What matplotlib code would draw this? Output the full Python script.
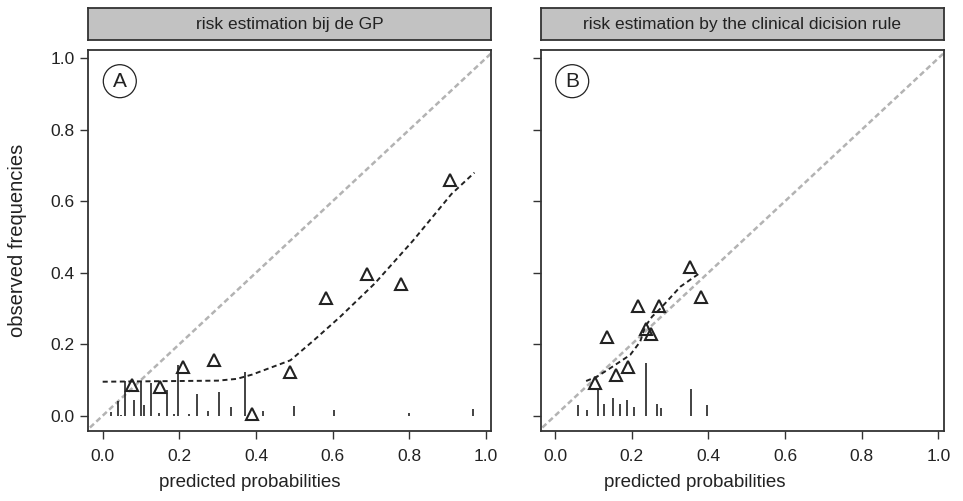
import matplotlib
matplotlib.use('Agg')
import matplotlib.pyplot as plt
from matplotlib.patches import Ellipse

plt.rcParams['font.family'] = ['Liberation Sans', 'DejaVu Sans']

# Panel A: risk estimation by the GP
a_pts_x = [0.076, 0.150, 0.209, 0.291, 0.389, 0.490, 0.584, 0.689, 0.778, 0.906]
a_pts_y = [0.086, 0.081, 0.137, 0.156, 0.005, 0.121, 0.330, 0.396, 0.368, 0.659]
a_curve_x = [0.0, 0.1, 0.2, 0.3, 0.35, 0.39, 0.44, 0.49, 0.55, 0.62, 0.71, 0.81, 0.91, 0.97]
a_curve_y = [0.095, 0.096, 0.097, 0.098, 0.103, 0.115, 0.135, 0.155, 0.21, 0.277, 0.37, 0.49, 0.62, 0.68]
a_spike_x = [0.022, 0.039, 0.048, 0.058, 0.082, 0.100, 0.109, 0.126, 0.148, 0.169, 0.187,
             0.196, 0.225, 0.245, 0.274, 0.303, 0.334, 0.371, 0.419, 0.499, 0.604, 0.800, 0.967]
a_spike_h = [0.011, 0.041, 0.002, 0.098, 0.044, 0.095, 0.030, 0.091, 0.007, 0.072, 0.004,
             0.142, 0.004, 0.061, 0.014, 0.067, 0.023, 0.121, 0.014, 0.027, 0.016, 0.008, 0.018]

# Panel B: risk estimation by the clinical decision rule
b_pts_x = [0.105, 0.135, 0.159, 0.190, 0.216, 0.238, 0.251, 0.270, 0.351, 0.382]
b_pts_y = [0.091, 0.221, 0.114, 0.137, 0.307, 0.243, 0.228, 0.307, 0.415, 0.331]
b_curve_x = [0.081, 0.109, 0.144, 0.196, 0.222, 0.235, 0.253, 0.275, 0.327, 0.379]
b_curve_y = [0.097, 0.109, 0.133, 0.170, 0.207, 0.249, 0.277, 0.300, 0.361, 0.400]
b_spike_x = [0.061, 0.083, 0.111, 0.128, 0.151, 0.170, 0.188, 0.207, 0.237, 0.266, 0.276, 0.355, 0.397]
b_spike_h = [0.030, 0.016, 0.072, 0.033, 0.050, 0.033, 0.044, 0.025, 0.147, 0.033, 0.021, 0.074, 0.030]

titles = ['risk estimation bij de GP', 'risk estimation by the clinical dicision rule']
letters = ['A', 'B']
ticks = [0.0, 0.2, 0.4, 0.6, 0.8, 1.0]

W, H = 963, 501
fig = plt.figure(figsize=(W / 100, H / 100), dpi=100)

panels = [
    (a_pts_x, a_pts_y, a_curve_x, a_curve_y, a_spike_x, a_spike_h),
    (b_pts_x, b_pts_y, b_curve_x, b_curve_y, b_spike_x, b_spike_h),
]
lefts = [88.3, 540.7]
xlab_centers = [250, 695]
box_w, box_top, box_bot = 403, 50, 430.7
box_h = box_bot - box_top

for i, (px, py, cx, cy, sx, sh) in enumerate(panels):
    l = lefts[i] / W
    ax = fig.add_axes([l, 1 - box_bot / H, box_w / W, box_h / H])
    ax.set_xlim(-0.0375, 1.014)
    ax.set_ylim(-0.042, 1.023)

    # reference diagonal
    ax.plot([-0.1, 1.1], [-0.1, 1.1], color='#b3b3b3', lw=1.8, dashes=(2.2, 1.3))
    # spikes (distribution of predicted probabilities)
    ax.vlines(sx, 0, sh, color='#222222', lw=1.2)
    # smoothed calibration curve
    ax.plot(cx, cy, color='#222222', lw=1.4, dashes=(2.6, 1.8))
    # grouped observations
    ax.plot(px, py, linestyle='none', marker='^', markersize=9, mfc='none',
            mec='#222222', mew=1.5)

    ax.set_xticks(ticks)
    ax.set_xticklabels([f'{t:.1f}' for t in ticks])
    ax.set_yticks(ticks)
    if i == 0:
        ax.set_yticklabels([f'{t:.1f}' for t in ticks])
        ax.set_ylabel('observed frequencies', fontsize=14.5, color='#222222')
        ax.yaxis.set_label_coords((27 - lefts[i]) / box_w, 0.5)
    else:
        ax.set_yticklabels([])
    ax.set_xlabel('predicted probabilities', fontsize=13.5, color='#222222')
    ax.xaxis.set_label_coords((xlab_centers[i] - lefts[i]) / box_w,
                              -(474 - box_bot) / box_h)
    ax.tick_params(direction='out', length=6, width=1.0, color='#333333',
                   labelsize=12.5, labelcolor='#222222')
    ax.tick_params(axis='x', pad=7)
    ax.tick_params(axis='y', pad=4)
    for sp in ax.spines.values():
        sp.set_linewidth(1.3)
        sp.set_color('#333333')

    # circled panel letter
    r = 16.5
    pos = (31.5 / box_w, 1 - 31.2 / box_h)
    ax.add_patch(Ellipse(pos, 2 * r / box_w, 2 * r / box_h, transform=ax.transAxes,
                         fc='white', ec='#222222', lw=0.9, zorder=5))
    ax.text(pos[0], pos[1], letters[i], transform=ax.transAxes, ha='center',
            va='center', fontsize=15, color='#222222', zorder=6)

    # strip header
    strip = fig.add_axes([l, 1 - 40 / H, box_w / W, 31.7 / H])
    strip.set_xticks([])
    strip.set_yticks([])
    strip.set_facecolor('#c2c2c2')
    for sp in strip.spines.values():
        sp.set_linewidth(1.3)
        sp.set_color('#333333')
    strip.text(0.5, 0.5, titles[i], ha='center', va='center', fontsize=12.5,
               color='#222222', transform=strip.transAxes)

fig.savefig('out.png', dpi=100)
